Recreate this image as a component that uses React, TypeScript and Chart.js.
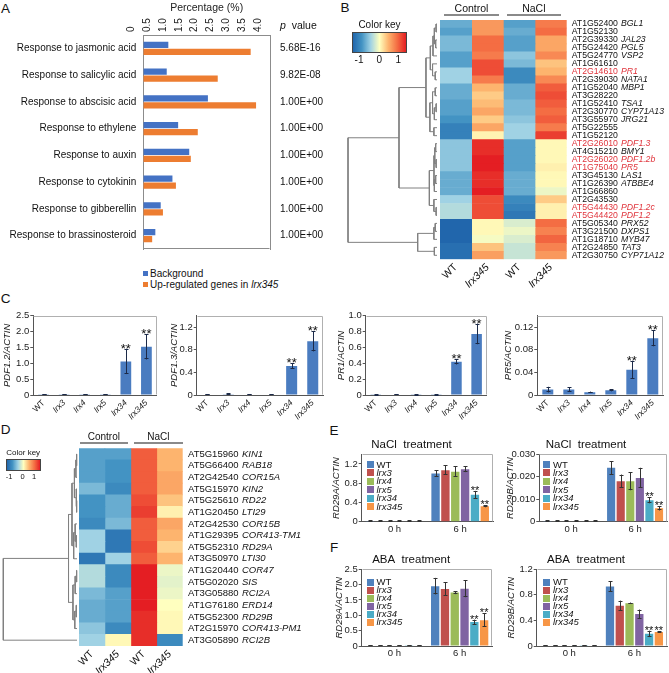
import React, { useEffect, useRef } from 'react';
import { Chart, registerables } from 'chart.js';

Chart.register(...registerables);

const FONT = "'Liberation Sans', Arial, Helvetica, sans-serif";
Chart.defaults.font.family = FONT;
Chart.defaults.color = '#1a1a1a';

/* ---------------- Panel A data ---------------- */
const goTerms = [
  'Response to jasmonic acid',
  'Response to salicylic acid',
  'Response to abscisic acid',
  'Response to ethylene',
  'Response to auxin',
  'Response to cytokinin',
  'Response to gibberellin',
  'Response to brassinosteroid',
];
const goSeries = ['Background', 'Up-regulated genes in lrx345'];
const goBackground = [0.79, 0.74, 2.04, 1.1, 1.45, 0.92, 0.55, 0.38];
const goUpregulated = [3.39, 2.35, 3.56, 1.72, 1.5, 1.03, 0.62, 0.28];
const goPValues = ['5.68E-16', '9.82E-08', '1.00E+00', '1.00E+00', '1.00E+00', '1.00E+00', '1.00E+00', '1.00E+00'];
const percentTickLabels = ['0', '0.5', '1.0', '1.5', '2.0', '2.5', '3.0', '3.5', '4.0'];

/* ---------------- Panel B data ---------------- */
const bGeneIds = ['AT1G52400', 'AT1G52130', 'AT2G39330', 'AT5G24420', 'AT5G24770', 'AT1G61610', 'AT2G14610', 'AT2G39030', 'AT1G52040', 'AT3G28220', 'AT1G52410', 'AT2G30770', 'AT3G55970', 'AT5G22555', 'AT1G52120', 'AT2G26010', 'AT4G15210', 'AT2G26020', 'AT1G75040', 'AT3G45130', 'AT1G26390', 'AT1G66860', 'AT2G43530', 'AT5G44430', 'AT5G44420', 'AT5G05340', 'AT3G21500', 'AT1G18710', 'AT2G24850', 'AT2G30750'];
const bGeneNames = ['BGL1', '', 'JAL23', 'PGL5', 'VSP2', '', 'PR1', 'NATA1', 'MBP1', '', 'TSA1', 'CYP71A13', 'JRG21', '', '', 'PDF1.3', 'BMY1', 'PDF1.2b', 'PR5', 'LAS1', 'ATBBE4', '', '', 'PDF1.2c', 'PDF1.2', 'PRX52', 'DXPS1', 'MYB47', 'TAT3', 'CYP71A12'];
const bDefenceMarkers = ['PR1', 'PDF1.3', 'PDF1.2b', 'PR5', 'PDF1.2c', 'PDF1.2'];
const bWTControl = [-0.8, -0.9, -0.7, -0.7, -0.9, -0.9, -0.5, -0.5, -0.8, -0.8, -0.9, -0.9, -1.0, -1.2, -1.2, -0.6, -0.6, -0.6, -0.6, -0.8, -0.8, -0.8, -0.5, -0.4, -0.4, -1.5, -1.5, -1.5, -1.4, -1.4];
const bLrxControl = [0.7, 0.7, 1.0, 1.0, 0.9, 1.2, 1.2, 0.9, 0.5, 0.35, 0.45, 0.6, 0.35, 0.6, 0.08, 1.4, 1.4, 1.5, 1.5, 1.4, 1.4, 1.6, 1.2, 1.2, 1.2, 0.05, 0.05, -0.05, 0.4, 0.65];
const bWTNaCl = [-0.9, -0.8, -0.9, -0.9, -0.6, -0.7, -1.1, -1.1, -0.8, -0.8, -0.7, -0.7, -0.6, -0.5, -0.5, -0.9, -0.9, -0.9, -0.9, -0.8, -0.8, -0.8, -1.1, -1.2, -1.3, -0.2, -0.1, -0.2, -0.3, -0.3];
const bLrxNaCl = [0.9, 1.0, 0.6, 0.6, 0.8, 0.4, 0.5, 0.8, 1.1, 1.2, 1.1, 1.0, 1.1, 0.9, 1.3, 0.05, 0.05, 0.05, 0.1, 0.05, 0.05, -0.1, 0.35, 0.1, 0.1, 1.0, 0.85, 1.05, 0.85, 0.7];
const heatColumnLabels = ['WT', 'lrx345', 'WT', 'lrx345'];
const treatmentLabels = ['Control', 'NaCl'];
const keyTickLabels = ['-1', '0', '1'];

type Tree = number | [number, Tree, Tree];
const bTree: Tree = [10,
  [4.27,
    [1.24,
      [0.75, [0.45, [0.3, [0.1, 0, 1], [0.15, 2, 3]], 4], [0.5, 5, [0.2, 6, 7]]],
      [0.8, [0.5, [0.2, 8, 9], [0.3, [0.1, 10, 11], 12]], [0.35, 13, 14]],
    ],
    [0.86, [0.34, [0.25, [0.15, 15, 16], [0.1, 17, 18]], [0.3, [0.15, 19, 20], 21]], [0.35, 22, [0.1, 23, 24]]],
  ],
  [2.17, [0.35, [0.2, 25, 26], 27], [0.3, 28, 29]],
];

/* ---------------- Panel C data ---------------- */
const cGenotypes = ['WT', 'lrx3', 'lrx4', 'lrx5', 'lrx34', 'lrx345'];
const cPDF12 = [0.02, 0.02, 0.02, 0.02, 1.06, 1.52];
const cPDF12Err = [0.005, 0.005, 0.005, 0.005, 0.4, 0.4];
const cPDF13 = [0.01, 0.012, 0.01, 0.01, 0.51, 0.95];
const cPDF13Err = [0.003, 0.003, 0.003, 0.003, 0.05, 0.18];
const cPR1 = [0.003, 0.005, 0.004, 0.004, 0.42, 0.77];
const cPR1Err = [0.002, 0.002, 0.002, 0.002, 0.035, 0.13];
const cPR5 = [0.0095, 0.0095, 0.005, 0.0085, 0.0445, 0.1];
const cPR5Err = [0.005, 0.004, 0.001, 0.002, 0.016, 0.014];
const cSig = ['', '', '', '', '**', '**'];
const cPDF12Ticks = ['0', '0.5', '1.0', '1.5', '2.0', '2.5'];
const cPDF13Ticks = ['0', '0.2', '0.4', '0.6', '0.8', '1.0', '1.2', '1.4'];
const cPR1Ticks = ['0', '0.2', '0.4', '0.6', '0.8', '1.0'];
const cPR5Ticks = ['0', '0.02', '0.04', '0.06', '0.08', '0.10', '0.12', '0.14'];

/* ---------------- Panel D data ---------------- */
const dGeneIds = ['AT5G15960', 'AT5G66400', 'AT2G42540', 'AT5G15970', 'AT5G25610', 'AT1G20450', 'AT2G42530', 'AT1G29395', 'AT5G52310', 'AT3G50970', 'AT1G20440', 'AT5G02020', 'AT3G05880', 'AT1G76180', 'AT5G52300', 'AT2G15970', 'AT3G05890'];
const dGeneNames = ['KIN1', 'RAB18', 'COR15A', 'KIN2', 'RD22', 'LTI29', 'COR15B', 'COR413-TM1', 'RD29A', 'LTI30', 'COR47', 'SIS', 'RCI2A', 'ERD14', 'RD29B', 'COR413-PM1', 'RCI2B'];
const dWTControl = [-0.9, -0.9, -0.9, -0.7, -1.0, -1.0, -1.1, -0.5, -0.5, -1.3, -0.4, -0.4, -0.7, -0.8, -0.8, -0.6, -0.5];
const dLrxControl = [-0.9, -1.0, -1.0, -1.1, -0.8, -0.8, -0.7, -1.3, -1.3, -0.5, -1.1, -1.1, -0.9, -0.9, -0.9, -1.1, 0.05];
const dWTNaCl = [1.1, 1.1, 1.1, 1.1, 1.2, 1.3, 1.1, 1.1, 1.2, 1.1, 1.5, 1.5, 1.5, 1.5, 1.4, 1.4, 1.4];
const dLrxNaCl = [0.5, 0.5, 0.6, 0.6, 0.4, 0.1, 0.6, 0.5, 0.3, 0.5, -0.1, -0.15, -0.1, 0.0, 0.05, 0.05, -1.1];
const dTree: Tree = [10,
  [1.15,
    [0.68, [0.35, [0.15, [0.05, 0, 1], 2], [0.12, 3, [0.05, 4, 5]]], [0.45, [0.25, 6, [0.1, 7, 8]], 9]],
    [0.55, [0.25, [0.05, 10, 11], 12], [0.3, [0.1, 13, 14], 15]],
  ],
  16,
];

/* ---------------- Panels E / F data ---------------- */
const efGenotypes = ['WT', 'lrx3', 'lrx4', 'lrx5', 'lrx34', 'lrx345'];
const efTimes = ['0 h', '6 h'];
const naclRD29A_0h = [0.012, 0.01, 0.01, 0.01, 0.008, 0.008];
const naclRD29A_6h = [1.0, 1.07, 1.04, 1.09, 0.56, 0.32];
const naclRD29A_0hErr = [0.004, 0.003, 0.003, 0.003, 0.003, 0.003];
const naclRD29A_6hErr = [0.07, 0.1, 0.11, 0.06, 0.08, 0.02];
const naclRD29B_0h = [0.0003, 0.0002, 0.0002, 0.0002, 0.0002, 0.0002];
const naclRD29B_6h = [0.024, 0.018, 0.018, 0.0195, 0.0095, 0.006];
const naclRD29B_0hErr = [0.0001, 0.0001, 0.0001, 0.0001, 0.0001, 0.0001];
const naclRD29B_6hErr = [0.003, 0.003, 0.004, 0.0045, 0.0013, 0.001];
const abaRD29A_0h = [0.02, 0.018, 0.015, 0.015, 0.012, 0.02];
const abaRD29A_6h = [1.95, 1.86, 1.74, 1.87, 0.78, 0.84];
const abaRD29A_0hErr = [0.005, 0.005, 0.005, 0.005, 0.005, 0.005];
const abaRD29A_6hErr = [0.27, 0.22, 0.05, 0.28, 0.08, 0.22];
const abaRD29B_0h = [0.008, 0.007, 0.006, 0.006, 0.005, 0.008];
const abaRD29B_6h = [0.93, 0.63, 0.67, 0.5, 0.19, 0.22];
const abaRD29B_0hErr = [0.003, 0.003, 0.003, 0.003, 0.003, 0.003];
const abaRD29B_6hErr = [0.08, 0.08, 0.01, 0.07, 0.05, 0.01];
const efSig6h = ['', '', '', '', '**', '**'];
const naclRD29ATicks = ['0', '0.2', '0.4', '0.6', '0.8', '1.0', '1.2', '1.4'];
const naclRD29BTicks = ['0', '0.005', '0.010', '0.015', '0.020', '0.025', '0.030'];
const abaRD29ATicks = ['0', '0.5', '1.0', '1.5', '2.0', '2.5'];
const abaRD29BTicks = ['0', '0.2', '0.4', '0.6', '0.8', '1.0', '1.2'];

/* ---------------- styles ---------------- */
const A_BLUE = '#4472c4';
const A_ORANGE = '#ed7d31';
const A_FRAME = '#8c8c8c';
const C_BAR = '#4a7cc0';
const AXIS = '#555555';
const FRAME_LIGHT = '#b0b0b0';
const RED_TEXT = '#e0343c';
const EF_COLORS = ['#4f81bd', '#c0504d', '#9bbb59', '#8064a2', '#4bacc6', '#f79646'];
const HEAT_STOPS: [number, number[]][] = [
  [-1.5, [33, 102, 172]],
  [-1.0, [67, 147, 195]],
  [-0.5, [160, 210, 228]],
  [0, [255, 255, 191]],
  [0.5, [253, 180, 110]],
  [1.0, [244, 109, 67]],
  [1.5, [228, 30, 35]],
];

function rgb(c: number[]) {
  return `rgb(${Math.round(c[0])},${Math.round(c[1])},${Math.round(c[2])})`;
}
function heatColor(v: number) {
  const s = HEAT_STOPS;
  if (v <= s[0][0]) return rgb(s[0][1]);
  for (let i = 1; i < s.length; i++) {
    if (v <= s[i][0]) {
      const t = (v - s[i - 1][0]) / (s[i][0] - s[i - 1][0]);
      const a = s[i - 1][1];
      const b = s[i][1];
      return rgb([a[0] + (b[0] - a[0]) * t, a[1] + (b[1] - a[1]) * t, a[2] + (b[2] - a[2]) * t]);
    }
  }
  return rgb(s[s.length - 1][1]);
}
const heatGradient = `linear-gradient(to right, ${HEAT_STOPS.map((st, i) => `${rgb(st[1])} ${(i / (HEAT_STOPS.length - 1)) * 100}%`).join(', ')})`;

const tickLabel = (labels: string[], v: number) =>
  labels.find((l) => Math.abs(parseFloat(l) - v) < 1e-7) ?? '';

/* ---------------- plugins ---------------- */
const framePlugin = {
  id: 'frame',
  beforeDatasetsDraw(chart: any, _a: any, opts: any) {
    if (!opts || !opts.color) return;
    const { left, right, top, bottom } = chart.chartArea;
    const ctx = chart.ctx;
    const sides: string = opts.sides || 'tblr';
    const L = Math.round(left) + 0.5;
    const R = Math.round(right) - 0.5;
    const T = Math.round(top) + 0.5;
    const B = Math.round(bottom) - 0.5;
    ctx.save();
    ctx.strokeStyle = opts.color;
    ctx.lineWidth = 1;
    ctx.beginPath();
    if (sides.includes('t')) { ctx.moveTo(L, T); ctx.lineTo(R, T); }
    if (sides.includes('b')) { ctx.moveTo(L, B); ctx.lineTo(R, B); }
    if (sides.includes('l')) { ctx.moveTo(L, T); ctx.lineTo(L, B); }
    if (sides.includes('r')) { ctx.moveTo(R, T); ctx.lineTo(R, B); }
    ctx.stroke();
    ctx.restore();
  },
};

const errorBarPlugin = {
  id: 'errbars',
  afterDatasetsDraw(chart: any, _a: any, opts: any) {
    const ctx = chart.ctx;
    const ys = chart.scales.y;
    ctx.save();
    ctx.strokeStyle = opts.color || '#222';
    ctx.lineWidth = 1;
    chart.data.datasets.forEach((ds: any, di: number) => {
      if (!ds.errors) return;
      const meta = chart.getDatasetMeta(di);
      meta.data.forEach((bar: any, i: number) => {
        const v = ds.data[i];
        const e = ds.errors[i];
        if (v == null || e == null) return;
        const x = Math.round(bar.x) + 0.5;
        const yTop = ys.getPixelForValue(v + e);
        const yBot = ys.getPixelForValue(Math.max(0, v - e));
        const c = opts.cap ?? 2;
        ctx.beginPath();
        ctx.moveTo(x, yBot);
        ctx.lineTo(x, yTop);
        ctx.moveTo(x - c, Math.round(yTop) + 0.5);
        ctx.lineTo(x + c, Math.round(yTop) + 0.5);
        ctx.moveTo(x - c, Math.round(yBot) - 0.5);
        ctx.lineTo(x + c, Math.round(yBot) - 0.5);
        ctx.stroke();
        const s = ds.stars && ds.stars[i];
        if (s) {
          ctx.fillStyle = '#111';
          ctx.font = opts.starFont;
          ctx.textAlign = 'center';
          ctx.textBaseline = 'alphabetic';
          ctx.fillText(s, bar.x, yTop + (opts.starDy ?? 3));
        }
      });
    });
    ctx.restore();
  },
};

const BASE = {
  animation: false,
  responsive: false,
  maintainAspectRatio: false,
  events: [] as string[],
};

/* ---------------- configs ---------------- */
function goConfig() {
  return {
    type: 'bar',
    data: {
      labels: goTerms,
      datasets: [
        { label: goSeries[0], data: goBackground, backgroundColor: A_BLUE, barPercentage: 0.9, categoryPercentage: 0.52 },
        { label: goSeries[1], data: goUpregulated, backgroundColor: A_ORANGE, barPercentage: 0.9, categoryPercentage: 0.52 },
      ],
    },
    options: {
      ...BASE,
      indexAxis: 'y',
      layout: { padding: { top: 0, left: 0, right: 0, bottom: 5 } },
      scales: {
        x: {
          type: 'linear', position: 'top', min: 0, max: 4,
          grid: { display: false, drawTicks: false },
          border: { color: A_FRAME },
          ticks: { stepSize: 0.5, minRotation: 90, maxRotation: 90, padding: 3, font: { size: 10 }, color: '#222', callback: (v: number) => tickLabel(percentTickLabels, v) },
          title: { display: true, text: 'Percentage (%)', font: { size: 10.5 }, padding: { top: 2, bottom: 0 }, color: '#222' },
          afterFit: (s: any) => { s.height = 35; },
        },
        y: {
          type: 'category', position: 'left',
          grid: { display: false, drawTicks: false },
          border: { color: A_FRAME },
          ticks: { autoSkip: false, padding: 7, font: { size: 10 }, color: '#111' },
          afterFit: (s: any) => { s.width = 143.3; },
        },
        y2: {
          type: 'category', position: 'right', labels: goPValues, offset: true,
          grid: { display: false, drawTicks: false },
          border: { color: A_FRAME },
          ticks: { autoSkip: false, padding: 10, font: { size: 10 }, color: '#111' },
          afterFit: (s: any) => { s.width = 70; },
        },
      },
      plugins: { legend: { display: false }, tooltip: { enabled: false }, frame: { color: A_FRAME, sides: 'b' } },
    },
    plugins: [framePlugin],
  };
}

function dendroSegments(tree: Tree) {
  const pts: { x: number; y: number }[] = [];
  const walk = (t: Tree): { h: number; y: number } => {
    if (typeof t === 'number') return { h: 0, y: t };
    const [h, a, b] = t;
    const l = walk(a);
    const r = walk(b);
    pts.push({ x: l.h, y: l.y }, { x: h, y: l.y }, { x: h, y: r.y }, { x: r.h, y: r.y }, { x: NaN, y: NaN });
    return { h, y: (l.y + r.y) / 2 };
  };
  walk(tree);
  return pts;
}

function dendroConfig(tree: Tree, n: number, padding: any) {
  const rootH = typeof tree === 'number' ? 1 : tree[0];
  return {
    type: 'scatter',
    data: {
      datasets: [{ data: dendroSegments(tree), showLine: true, borderColor: '#808080', borderWidth: 1, pointRadius: 0, spanGaps: false, clip: false }],
    },
    options: {
      ...BASE,
      layout: { padding },
      scales: {
        x: { type: 'linear', min: 0, max: rootH, reverse: true, display: false },
        y: { type: 'linear', min: -0.5, max: n - 0.5, reverse: true, display: false },
      },
      plugins: { legend: { display: false }, tooltip: { enabled: false } },
    },
  };
}

function heatmapConfig(p: any) {
  const red: boolean[] = p.red;
  return {
    type: 'bar',
    data: {
      labels: p.ids,
      datasets: p.columns.map((col: number[], ci: number) => ({
        data: col.map(() => [ci, ci + 1]),
        backgroundColor: col.map(heatColor),
        borderWidth: 0,
        barPercentage: 1,
        categoryPercentage: 1,
        grouped: false,
        xAxisID: 'x',
        yAxisID: 'y',
      })),
    },
    options: {
      ...BASE,
      indexAxis: 'y',
      layout: { padding: { left: p.padLeft, top: p.padTop, right: 0, bottom: 0 } },
      scales: {
        x: { type: 'linear', min: 0, max: p.columns.length, display: false },
        xl: {
          type: 'category', position: 'bottom', labels: heatColumnLabels, offset: true,
          grid: { display: false, drawTicks: false }, border: { display: false },
          ticks: { autoSkip: false, minRotation: 45, maxRotation: 45, padding: p.xPad, color: '#111', font: (c: any) => ({ size: p.xFont, style: c.index % 2 ? 'italic' : 'normal' }) },
          afterFit: (s: any) => { s.height = p.xHeight; },
        },
        y: {
          type: 'category', position: 'right', offset: true, weight: 0,
          grid: { display: false, drawTicks: false }, border: { display: false },
          ticks: { autoSkip: false, padding: p.idPad, font: { size: p.font }, color: (c: any) => (red[c.index] ? RED_TEXT : '#111') },
          afterFit: (s: any) => { s.width = p.idWidth; },
        },
        y2: {
          type: 'category', position: 'right', labels: p.names, offset: true, weight: 1,
          grid: { display: false, drawTicks: false }, border: { display: false },
          ticks: { autoSkip: false, padding: 0, font: { size: p.font, style: 'italic' }, color: (c: any) => (red[c.index] ? RED_TEXT : '#111') },
          afterFit: (s: any) => { s.width = p.nameWidth; },
        },
      },
      plugins: { legend: { display: false }, tooltip: { enabled: false } },
    },
  };
}

function singleBarConfig(p: any) {
  return {
    type: 'bar',
    data: {
      labels: cGenotypes,
      datasets: [{ data: p.values, errors: p.errors, stars: cSig, backgroundColor: C_BAR, barPercentage: 0.9, categoryPercentage: 0.58 }],
    },
    options: {
      ...BASE,
      layout: { padding: { top: p.padTop, right: p.padRight, left: 0, bottom: 0 } },
      scales: {
        x: {
          grid: { display: false, drawTicks: false }, border: { color: AXIS },
          ticks: { autoSkip: false, minRotation: 45, maxRotation: 45, padding: 3, color: '#222', font: (c: any) => ({ size: 8.5, style: c.index === 0 ? 'normal' : 'italic' }) },
          afterFit: (s: any) => { s.height = p.xHeight; },
        },
        y: {
          min: 0, max: p.max,
          ticks: { stepSize: p.step, callback: (v: number) => tickLabel(p.ticks, v), font: { size: 9.5 }, padding: 1, color: '#222' },
          grid: { display: true, drawOnChartArea: false, drawTicks: true, tickLength: 3, color: AXIS },
          border: { color: AXIS },
          title: { display: true, text: p.title, font: { size: 9.5, style: 'italic' }, padding: { top: p.titlePad, bottom: 0 }, color: '#222' },
          afterFit: (s: any) => { s.width = p.yWidth; },
        },
      },
      plugins: {
        legend: { display: false }, tooltip: { enabled: false },
        frame: { color: FRAME_LIGHT, sides: 'tr' },
        errbars: { color: '#1c2a48', cap: 2, starFont: `13px ${FONT}`, starDy: 4 },
      },
    },
    plugins: [framePlugin, errorBarPlugin],
  };
}

function groupedConfig(p: any) {
  return {
    type: 'bar',
    data: {
      labels: efTimes,
      datasets: efGenotypes.map((g, gi) => ({
        label: g,
        data: [p.v0[gi], p.v6[gi]],
        errors: [p.e0[gi], p.e6[gi]],
        stars: ['', efSig6h[gi]],
        backgroundColor: EF_COLORS[gi],
        barPercentage: 0.85,
        categoryPercentage: 0.9,
      })),
    },
    options: {
      ...BASE,
      layout: { padding: { top: 0, right: p.padRight, left: 0, bottom: 0 } },
      scales: {
        x: {
          grid: { display: false, drawTicks: false }, border: { color: AXIS },
          ticks: { padding: 2, font: { size: 9.5 }, color: '#222' },
          afterFit: (s: any) => { s.height = p.xHeight; },
        },
        y: {
          min: 0, max: p.max,
          ticks: { stepSize: p.step, callback: (v: number) => tickLabel(p.ticks, v), font: { size: 9.5 }, padding: 1, color: '#222' },
          grid: { display: true, drawOnChartArea: false, drawTicks: true, tickLength: 3, color: AXIS },
          border: { color: AXIS },
          title: { display: true, text: p.yTitle, font: { size: 9.5, style: 'italic' }, padding: { top: p.titlePad, bottom: 0 }, color: '#222' },
          afterFit: (s: any) => { s.width = p.yWidth; },
        },
      },
      plugins: {
        legend: { display: false }, tooltip: { enabled: false },
        title: { display: true, text: p.title, font: { size: 11.5, weight: 'normal' }, padding: { top: 2, bottom: 2.5 }, color: '#111' },
        frame: { color: FRAME_LIGHT, sides: 'tr' },
        errbars: { color: '#333', cap: 2, starFont: `11px ${FONT}`, starDy: 3 },
      },
    },
    plugins: [framePlugin, errorBarPlugin],
  };
}

/* ---------------- components ---------------- */
function ChartCanvas({ box, make }: { box: number[]; make: () => any }) {
  const ref = useRef<HTMLCanvasElement>(null);
  useEffect(() => {
    const chart = new Chart(ref.current as HTMLCanvasElement, make());
    return () => chart.destroy();
  }, []);
  const [l, t, w, h] = box;
  return (
    <canvas ref={ref} width={w} height={h} style={{ position: 'absolute', left: l, top: t, width: w, height: h }} />
  );
}

function Txt({ x, y, size, children, style }: any) {
  return (
    <div style={{ position: 'absolute', left: x, top: y, transform: 'translate(-50%,-50%)', fontSize: size, lineHeight: 1, whiteSpace: 'nowrap', color: '#111', ...style }}>
      {children}
    </div>
  );
}

function Header({ label, x1, x2, textY, lineY, size }: any) {
  return (
    <>
      <Txt x={(x1 + x2) / 2} y={textY} size={size}>{label}</Txt>
      <div style={{ position: 'absolute', left: x1, top: lineY - 1, width: x2 - x1, height: 2, background: '#8a8a8a' }} />
    </>
  );
}

function ColorKey({ x, y, w, h, titleY, tickY, tickXs, size, tickSize }: any) {
  return (
    <>
      <Txt x={x + w / 2} y={titleY} size={size}>Color key</Txt>
      <div style={{ position: 'absolute', left: x, top: y, width: w, height: h, background: heatGradient, border: '1px solid #444', boxSizing: 'border-box' }} />
      {keyTickLabels.map((t, i) => (
        <Txt key={t} x={tickXs[i]} y={tickY} size={tickSize}>{t}</Txt>
      ))}
    </>
  );
}

function GenoLegend({ x, y, step }: any) {
  return (
    <>
      {efGenotypes.map((g, i) => (
        <div key={g} style={{ position: 'absolute', left: x, top: y + i * step - 4, height: 8, display: 'flex', alignItems: 'center', fontSize: 9.5, lineHeight: '8px', whiteSpace: 'nowrap', color: '#111' }}>
          <span style={{ display: 'inline-block', width: 7, height: 7, background: EF_COLORS[i], marginRight: 3 }} />
          <span style={{ fontStyle: i === 0 ? 'normal' : 'italic' }}>{g}</span>
        </div>
      ))}
    </>
  );
}

export default function App() {
  const bRed = bGeneNames.map((n) => bDefenceMarkers.includes(n));
  const dRed = dGeneNames.map(() => false);
  return (
    <div style={{ position: 'absolute', left: 0, top: 0, width: 669, height: 673, overflow: 'hidden', background: '#fff', fontFamily: FONT }}>
      {/* Panel letters */}
      <Txt x={5.5} y={9} size={13.5}>A</Txt>
      <Txt x={345} y={8} size={13.5}>B</Txt>
      <Txt x={5.5} y={299} size={13.5}>C</Txt>
      <Txt x={5.5} y={430} size={13.5}>D</Txt>
      <Txt x={334} y={431} size={13.5}>E</Txt>
      <Txt x={334} y={547.5} size={13.5}>F</Txt>

      {/* Panel A */}
      <ChartCanvas box={[0, 0, 340, 265]} make={goConfig} />
      <div style={{ position: 'absolute', left: 280, top: 20, fontSize: 10.5, lineHeight: 1, whiteSpace: 'nowrap', color: '#111' }}>
        <i>p</i>&nbsp; value
      </div>
      <div style={{ position: 'absolute', left: 143, top: 268.5, fontSize: 10, lineHeight: '10px', whiteSpace: 'nowrap', color: '#111', display: 'flex', alignItems: 'center' }}>
        <span style={{ display: 'inline-block', width: 5, height: 5, background: A_BLUE, marginRight: 2 }} />
        {goSeries[0]}
      </div>
      <div style={{ position: 'absolute', left: 143, top: 279.5, fontSize: 10, lineHeight: '10px', whiteSpace: 'nowrap', color: '#111', display: 'flex', alignItems: 'center' }}>
        <span style={{ display: 'inline-block', width: 5, height: 5, background: A_ORANGE, marginRight: 2 }} />
        Up-regulated genes in&nbsp;<i>lrx345</i>
      </div>

      {/* Panel B */}
      <ChartCanvas box={[340, 0, 100, 300]} make={() => dendroConfig(bTree, bGeneIds.length, { left: 8, right: 3, top: 20, bottom: 40.7 })} />
      <ChartCanvas
        box={[430, 0, 239, 300]}
        make={() => heatmapConfig({ ids: bGeneIds, names: bGeneNames, red: bRed, columns: [bWTControl, bLrxControl, bWTNaCl, bLrxNaCl], font: 8.7, xFont: 10.5, xPad: 2, idPad: 5, idWidth: 54.3, nameWidth: 48, padLeft: 10, padTop: 20, xHeight: 40.7 })}
      />
      <Header label={treatmentLabels[0]} x1={444} x2={499} textY={7.8} lineY={15} size={10.5} />
      <Header label={treatmentLabels[1]} x1={506.7} x2={561} textY={7.8} lineY={15} size={10.5} />
      <ColorKey x={352.3} y={32.3} w={54.4} h={21} titleY={25} tickY={60} tickXs={[359, 379.3, 398.3]} size={10} tickSize={10} />

      {/* Panel C */}
      <ChartCanvas box={[0, 300, 165, 125]} make={() => singleBarConfig({ values: cPDF12, errors: cPDF12Err, ticks: cPDF12Ticks, max: 2.5, step: 0.5, title: 'PDF1.2/ACTIN', yWidth: 33.3, titlePad: 1.3, padTop: 15.7, padRight: 8.3, xHeight: 30 })} />
      <ChartCanvas box={[165, 300, 165, 125]} make={() => singleBarConfig({ values: cPDF13, errors: cPDF13Err, ticks: cPDF13Ticks, max: 1.4, step: 0.2, title: 'PDF1.3/ACTIN', yWidth: 31.7, titlePad: 3.5, padTop: 15.7, padRight: 6.7, xHeight: 30 })} />
      <ChartCanvas box={[330, 300, 165, 125]} make={() => singleBarConfig({ values: cPR1, errors: cPR1Err, ticks: cPR1Ticks, max: 1.0, step: 0.2, title: 'PR1/ACTIN', yWidth: 35.7, titlePad: 6, padTop: 15.7, padRight: 8.3, xHeight: 30 })} />
      <ChartCanvas box={[495, 300, 174, 125]} make={() => singleBarConfig({ values: cPR5, errors: cPR5Err, ticks: cPR5Ticks, max: 0.14, step: 0.02, title: 'PR5/ACTIN', yWidth: 42.3, titlePad: 7.5, padTop: 15.7, padRight: 5.7, xHeight: 30 })} />

      {/* Panel D */}
      <ChartCanvas box={[0, 440, 79, 220]} make={() => dendroConfig(dTree, dGeneIds.length, { left: 3.3, right: 2, top: 8.3, bottom: 14 })} />
      <ChartCanvas
        box={[70, 430, 260, 243]}
        make={() => heatmapConfig({ ids: dGeneIds, names: dGeneNames, red: dRed, columns: [dWTControl, dLrxControl, dWTNaCl, dLrxNaCl], font: 9.5, xFont: 10.5, xPad: 2, idPad: 5.3, idWidth: 59.3, nameWidth: 88, padLeft: 9, padTop: 18.3, xHeight: 27 })}
      />
      <Header label={treatmentLabels[0]} x1={80} x2={127.7} textY={436.7} lineY={443.3} size={10} />
      <Header label={treatmentLabels[1]} x1={134} x2={182.7} textY={436.7} lineY={443.3} size={10} />
      <ColorKey x={5.7} y={459} w={35} h={11.7} titleY={453.3} tickY={476.7} tickXs={[9, 22.7, 34]} size={8} tickSize={7.5} />

      {/* Panel E */}
      <ChartCanvas box={[330, 436, 170, 100]} make={() => groupedConfig({ title: 'NaCl  treatment', yTitle: 'RD29A/ACTIN', v0: naclRD29A_0h, v6: naclRD29A_6h, e0: naclRD29A_0hErr, e6: naclRD29A_6hErr, ticks: naclRD29ATicks, max: 1.4, step: 0.2, yWidth: 31.7, titlePad: 0.5, padRight: 7, xHeight: 14.3 })} />
      <ChartCanvas box={[505, 436, 164, 100]} make={() => groupedConfig({ title: 'NaCl  treatment', yTitle: 'RD29B/ACTIN', v0: naclRD29B_0h, v6: naclRD29B_6h, e0: naclRD29B_0hErr, e6: naclRD29B_6hErr, ticks: naclRD29BTicks, max: 0.03, step: 0.005, yWidth: 34.3, titlePad: 0, padRight: 2, xHeight: 14.3 })} />
      <GenoLegend x={366.5} y={464.5} step={8.4} />
      <GenoLegend x={543} y={464.5} step={8.4} />

      {/* Panel F */}
      <ChartCanvas box={[330, 551, 170, 110]} make={() => groupedConfig({ title: 'ABA  treatment', yTitle: 'RD29A/ACTIN', v0: abaRD29A_0h, v6: abaRD29A_6h, e0: abaRD29A_0hErr, e6: abaRD29A_6hErr, ticks: abaRD29ATicks, max: 2.5, step: 0.5, yWidth: 31.7, titlePad: 4, padRight: 7.7, xHeight: 15 })} />
      <ChartCanvas box={[505, 551, 164, 110]} make={() => groupedConfig({ title: 'ABA  treatment', yTitle: 'RD29B/ACTIN', v0: abaRD29B_0h, v6: abaRD29B_6h, e0: abaRD29B_0hErr, e6: abaRD29B_6hErr, ticks: abaRD29BTicks, max: 1.2, step: 0.2, yWidth: 31.7, titlePad: 1, padRight: 2, xHeight: 15 })} />
      <GenoLegend x={366.5} y={582} step={8} />
      <GenoLegend x={543} y={582} step={8} />
    </div>
  );
}
